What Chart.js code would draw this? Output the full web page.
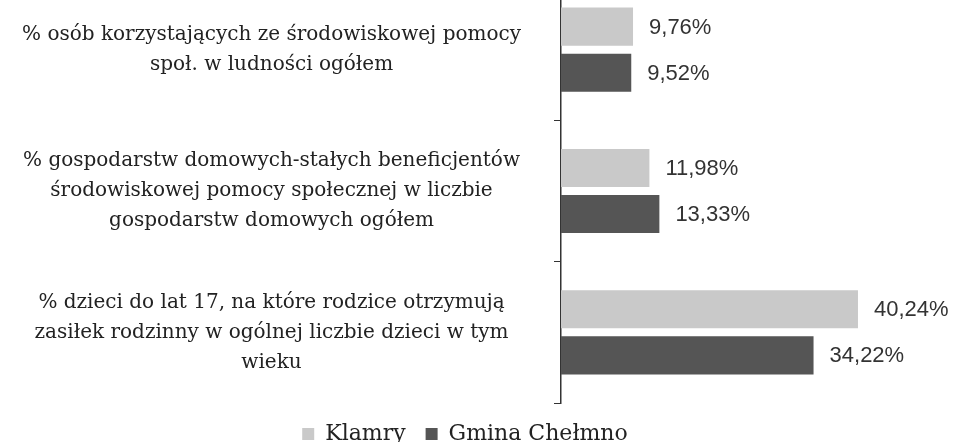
<!DOCTYPE html>
<html lang="pl">
<head>
    <meta charset="UTF-8">
    <title>Pomoc społeczna - Klamry / Gmina Chełmno</title>
    <script src="https://cdn.jsdelivr.net/npm/chart.js"></script>
    <style>
        html, body { margin: 0; padding: 0; background: #fff; overflow: hidden; }
        #wrap { position: absolute; left: 0; top: -21px; width: 956px; height: 476px; }
    </style>
</head>
<body>
    <div id="wrap"><canvas id="chart" width="956" height="476"></canvas></div>

    <script>
        const categories = [
            ["% osób korzystających ze środowiskowej pomocy", "społ. w ludności ogółem"],
            ["% gospodarstw domowych-stałych beneficjentów", "środowiskowej pomocy społecznej w liczbie", "gospodarstw domowych ogółem"],
            ["% dzieci do lat 17, na które rodzice otrzymują", "zasiłek rodzinny w ogólnej liczbie dzieci w tym", "wieku"]
        ];
        const seriesNames = ["Klamry", "Gmina Chełmno"];
        const klamry = [9.76, 11.98, 40.24];
        const gminaChelmno = [9.52, 13.33, 34.22];

        // draws the "9,76%" style labels next to each bar
        const valueLabels = {
            id: "valueLabels",
            afterDatasetsDraw(chart) {
                const ctx = chart.ctx;
                ctx.save();
                ctx.font = "22px 'Liberation Sans', Arial, sans-serif";
                ctx.fillStyle = "#333";
                ctx.textAlign = "left";
                ctx.textBaseline = "middle";
                chart.data.datasets.forEach((ds, i) => {
                    chart.getDatasetMeta(i).data.forEach((bar, j) => {
                        const txt = ds.data[j].toFixed(2).replace(".", ",") + "%";
                        ctx.fillText(txt, bar.x + 16, bar.y + 1);
                    });
                });
                ctx.restore();
            }
        };

        const ctx = document.getElementById("chart").getContext("2d");
        new Chart(ctx, {
            type: "bar",
            data: {
                labels: categories,
                datasets: [{
                    label: seriesNames[0],
                    data: klamry,
                    backgroundColor: "#c9c9c9",
                    categoryPercentage: 0.652,
                    barPercentage: 0.826
                }, {
                    label: seriesNames[1],
                    data: gminaChelmno,
                    backgroundColor: "#555555",
                    categoryPercentage: 0.652,
                    barPercentage: 0.826
                }]
            },
            options: {
                indexAxis: "y",
                responsive: false,
                animation: false,
                layout: { padding: { left: 0, right: 26, top: 0, bottom: 0 } },
                scales: {
                    x: { display: false, min: 0, max: 50 },
                    y: {
                        afterFit(scale) {
                            scale.width = 561;
                            scale.paddingTop = 0;
                            scale.paddingBottom = 0;
                        },
                        border: { display: true, color: "#333", width: 1.5 },
                        grid: { drawOnChartArea: false, color: "#333", tickLength: 7, offset: true },
                        ticks: {
                            crossAlign: "center",
                            padding: 33,
                            color: "#222",
                            font: { family: "'DejaVu Serif', serif", size: 20, lineHeight: 1.5 }
                        }
                    }
                },
                plugins: {
                    legend: {
                        position: "bottom",
                        labels: {
                            boxWidth: 12,
                            boxHeight: 12,
                            padding: 20,
                            color: "#222",
                            font: { family: "'DejaVu Serif', serif", size: 22 }
                        }
                    },
                    tooltip: { enabled: false }
                }
            },
            plugins: [valueLabels]
        });
    </script>
</body>
</html>
